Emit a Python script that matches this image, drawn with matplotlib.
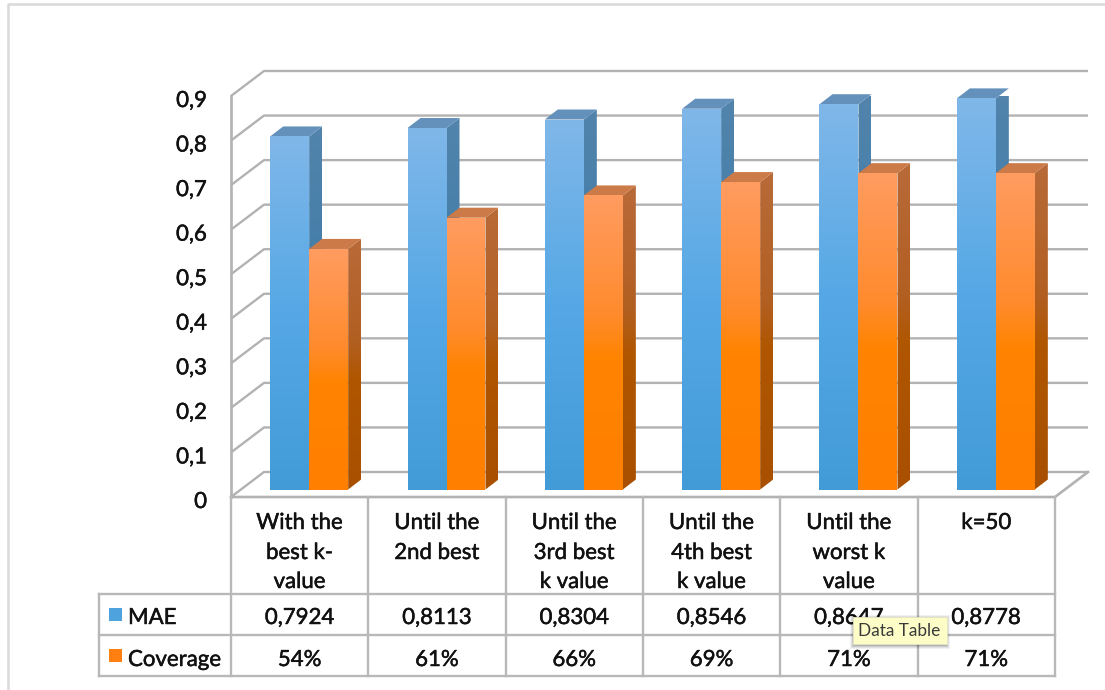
import numpy as np
import matplotlib
matplotlib.use("Agg")
import matplotlib.pyplot as plt
import matplotlib.patheffects as pe
from matplotlib.colors import LinearSegmentedColormap
from matplotlib.patches import Polygon, Rectangle

categories = ["With the\nbest k-\nvalue", "Until the\n2nd best", "Until the\n3rd best\nk value",
              "Until the\n4th best\nk value", "Until the\nworst k\nvalue", "k=50"]
mae = [0.7924, 0.8113, 0.8304, 0.8546, 0.8647, 0.8778]
coverage = [0.54, 0.61, 0.66, 0.69, 0.71, 0.71]
mae_labels = ["0,7924", "0,8113", "0,8304", "0,8546", "0,8647", "0,8778"]
coverage_labels = ["54%", "61%", "66%", "69%", "71%", "71%"]
y_ticks = [0, 0.1, 0.2, 0.3, 0.4, 0.5, 0.6, 0.7, 0.8, 0.9]
y_labels = ["0", "0,1", "0,2", "0,3", "0,4", "0,5", "0,6", "0,7", "0,8", "0,9"]

W, H = 1105, 690
plt.rcParams["font.family"] = ["Lato", "DejaVu Sans"]
fig = plt.figure(figsize=(W / 100, H / 100), dpi=100, facecolor="white")

# Plot plane: front-left corner of the 3D box is at the axes origin
L, R, B, T = 231, 1055, 497, 96
ax = fig.add_axes([L / W, 1 - B / H, (R - L) / W, (B - T) / H])
ax.axis("off")
UX = 6 / (R - L)        # data units per pixel, horizontally
UY = 0.9 / (B - T)      # data units per pixel, vertically

GRID = "#b2b2b2"
wall_dx, wall_dy = 33 * UX, 25 * UY
for v in y_ticks:
    ax.plot([0, wall_dx, 6 + wall_dx], [v, v + wall_dy, v + wall_dy],
            color=GRID, lw=1.7, clip_on=False, zorder=1, solid_capstyle="butt")
ax.plot([0, 0], [0, 0.9], color=GRID, lw=1.9, clip_on=False, zorder=1)
ax.plot([0, 6, 6 + wall_dx], [0, 0, wall_dy], color=GRID, lw=1.9, clip_on=False, zorder=1)

BLUE_FRONT = LinearSegmentedColormap.from_list("bf", ["#429bd7", "#55a8e5", "#80b7e9"])
BLUE_SIDE = LinearSegmentedColormap.from_list("bs", ["#2f7aa8", "#3e7ca8", "#5284ac"])
ORANGE_FRONT = LinearSegmentedColormap.from_list(
    "of", [(0, "#ff7f00"), (0.44, "#ff8400"), (0.6, "#ff8b2e"), (1, "#ff9c60")])
ORANGE_SIDE = LinearSegmentedColormap.from_list(
    "os", [(0, "#a85000"), (0.44, "#b05600"), (0.6, "#b25f22"), (1, "#b86a38")])
BLUE_TOP, ORANGE_TOP = "#6391bb", "#cc7a48"

BAR_W = 39 * UX
LIFT = 7.5 * UY         # bars stand slightly behind the front floor edge
SHIFT = 9.5 * UX
DX, DY = 13 * UX, 10 * UY
ramp = np.linspace(1, 0, 128).reshape(-1, 1)


def shaded(poly, extent, cmap, z):
    im = ax.imshow(ramp, cmap=cmap, extent=extent, aspect="auto", zorder=z,
                   vmin=0, vmax=1, interpolation="bilinear")
    clip = Polygon(poly, closed=True, transform=ax.transData)
    im.set_clip_path(clip)


def bar3d(x0, value, front, side, top, z):
    x1 = x0 + BAR_W
    y0, y1 = LIFT, LIFT + value
    shaded([(x0, y0), (x1, y0), (x1, y1), (x0, y1)], (x0, x1, y0, y1), front, z + 0.2)
    shaded([(x1, y0), (x1 + DX, y0 + DY), (x1 + DX, y1 + DY), (x1, y1)],
           (x1, x1 + DX, y0, y1 + DY), side, z)
    ax.add_patch(Polygon([(x0, y1), (x1, y1), (x1 + DX, y1 + DY), (x0 + DX, y1 + DY)],
                         closed=True, facecolor=top, edgecolor="none", zorder=z + 0.1,
                         clip_on=False))


for i, (m, c) in enumerate(zip(mae, coverage)):
    centre = i + 0.5 + SHIFT
    bar3d(centre - BAR_W, m, BLUE_FRONT, BLUE_SIDE, BLUE_TOP, 2 + i * 2)
    bar3d(centre, c, ORANGE_FRONT, ORANGE_SIDE, ORANGE_TOP, 3 + i * 2)

ax.set_xlim(0, 6)
ax.set_ylim(0, 0.9)

# Overlay in pixel units for the page frame, data table and tooltip
ov = fig.add_axes([0, 0, 1, 1], zorder=5)
ov.set_xlim(0, W)
ov.set_ylim(H, 0)
ov.axis("off")
ov.patch.set_alpha(0)

FRAME = "#d9d9d9"
ov.plot([W, 8, 8], [4, 4, H], color=FRAME, lw=1.8)

TXT = "#111111"
FS = 16
heavier = [pe.withStroke(linewidth=0.35, foreground=TXT)]


def label(x, y, s, ha="center"):
    ov.text(x, y, s, ha=ha, va="center", fontsize=FS, color=TXT, path_effects=heavier)


for v, lab in zip(y_ticks, y_labels):
    label(207, B - v / UY + 5, lab, ha="right")

col_edges = np.linspace(L, R, len(categories) + 1)
rows = [594, 635, 676]
TABLE = "#b8b8b8"
for x in col_edges:
    ov.plot([x, x], [B, rows[-1]], color=TABLE, lw=1.7)
ov.plot([99, 99], [rows[0], rows[-1]], color=TABLE, lw=1.7)
for y in rows:
    ov.plot([99, R], [y, y], color=TABLE, lw=1.7)

line_y = [523, 553, 582]
for i, name in enumerate(categories):
    cx = (col_edges[i] + col_edges[i + 1]) / 2
    for ly, part in zip(line_y, name.split("\n")):
        label(cx, ly, part)
    label(cx, 618, mae_labels[i])
    label(cx, 660, coverage_labels[i])

ov.add_patch(Rectangle((109, 608), 13, 13, facecolor="#4ea2dd", edgecolor="none"))
ov.add_patch(Rectangle((109, 649), 13, 13, facecolor="#ff8010", edgecolor="none"))
label(128, 618, "MAE", ha="left")
label(128, 660, "Coverage", ha="left")

# Tooltip with a soft drop shadow
for grow, alpha in [(4, 0.05), (3, 0.07), (2, 0.09), (1, 0.12)]:
    ov.add_patch(Rectangle((853 - grow + 1, 617 - grow + 2), 94 + 2 * grow - 2, 27 + 2 * grow - 1,
                           facecolor="black", alpha=alpha, edgecolor="none", zorder=6))
ov.add_patch(Rectangle((853, 617), 94, 27, facecolor="#fdfdc8", edgecolor="#e4e4c0",
                       lw=0.6, zorder=7))
ov.text(899, 631, "Data Table", ha="center", va="center", fontsize=12.4,
        color="#3a3a3a", zorder=8)

fig.savefig("out.png", dpi=100)
